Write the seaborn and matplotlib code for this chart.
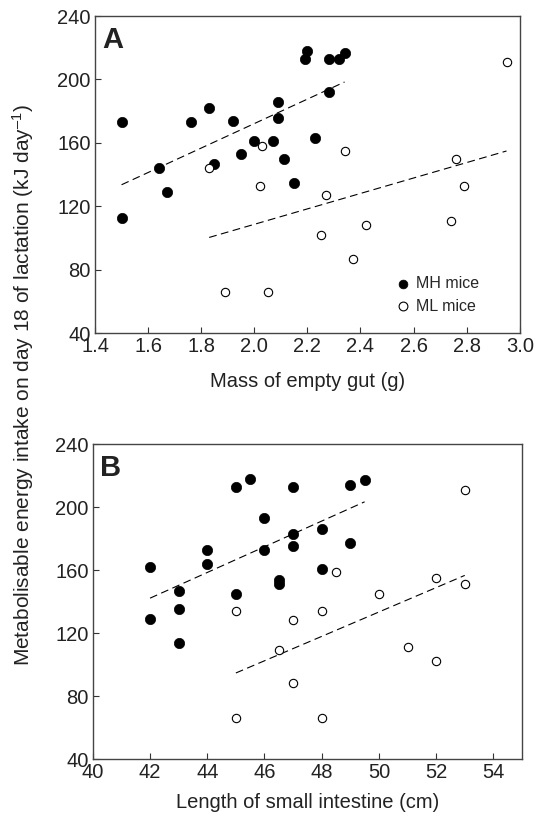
import matplotlib
matplotlib.use("Agg")
import matplotlib.pyplot as plt
import seaborn as sns
import pandas as pd
import numpy as np

sns.set_style("ticks")
plt.rcParams['font.family'] = ['Liberation Sans', 'DejaVu Sans']
plt.rcParams['mathtext.fontset'] = 'custom'
plt.rcParams['mathtext.rm'] = 'Liberation Sans'
plt.rcParams['mathtext.it'] = 'Liberation Sans:italic'
plt.rcParams['mathtext.bf'] = 'Liberation Sans:bold'

# Panel A: mass of empty gut (g) vs energy intake
gut_mh = [1.50, 1.50, 1.64, 1.67, 1.76, 1.83, 1.85, 1.92, 1.95, 2.00, 2.07, 2.09,
          2.09, 2.11, 2.15, 2.19, 2.20, 2.28, 2.32, 2.34, 2.28, 2.23]
gut_mh_y = [173, 113, 144, 129, 173, 182, 147, 174, 153, 161, 161, 186,
            176, 150, 135, 213, 218, 213, 213, 217, 192, 163]
gut_ml = [1.83, 2.03, 2.02, 1.89, 2.05, 2.34, 2.27, 2.25, 2.42, 2.37, 2.76, 2.79, 2.74, 2.95]
gut_ml_y = [144, 158, 133, 66, 66, 155, 127, 102, 108, 87, 150, 133, 111, 211]

# Panel B: length of small intestine (cm) vs energy intake
len_mh = [42, 42, 43, 43, 43, 44, 44, 45, 45, 45.5, 46, 46, 46.5, 46.5, 47, 47, 47,
          48, 48, 49, 49.5, 49]
len_mh_y = [162, 129, 147, 135, 114, 173, 164, 213, 145, 218, 193, 173, 154, 151,
            213, 183, 175, 186, 161, 214, 217, 177]
len_ml = [45, 47, 46.5, 47, 48.5, 48, 50, 52, 53, 53, 51, 52, 45, 48]
len_ml_y = [134, 128, 109, 88, 159, 134, 145, 155, 151, 211, 111, 102, 66, 66]

groups = ["MH mice", "ML mice"]

dfA = pd.DataFrame({
    "x": gut_mh + gut_ml,
    "y": gut_mh_y + gut_ml_y,
    "group": [groups[0]] * len(gut_mh) + [groups[1]] * len(gut_ml),
})
dfB = pd.DataFrame({
    "x": len_mh + len_ml,
    "y": len_mh_y + len_ml_y,
    "group": [groups[0]] * len(len_mh) + [groups[1]] * len(len_ml),
})

fig = plt.figure(figsize=(5.46, 8.21), dpi=100)
axA = fig.add_axes([0.174, 0.594, 0.778, 0.3865])
axB = fig.add_axes([0.170, 0.0755, 0.786, 0.3835])

def draw(ax, df, letter):
    mh = df[df.group == groups[0]]
    ml = df[df.group == groups[1]]
    for sub in (mh, ml):
        sns.regplot(data=sub, x="x", y="y", ax=ax, scatter=False, ci=None, truncate=True,
                    line_kws=dict(color="black", lw=0.8, dashes=(7, 4)))
    sns.scatterplot(data=mh, x="x", y="y", ax=ax, color="black", s=55,
                    edgecolor="black", linewidth=0.5, label="MH mice", zorder=3)
    sns.scatterplot(data=ml, x="x", y="y", ax=ax, facecolor="white", s=36,
                    edgecolor="black", linewidth=0.8, label="ML mice", zorder=3)
    ax.annotate(letter, xy=(0, 1), xycoords="axes fraction", xytext=(7, -10),
                textcoords="offset pixels", fontsize=21, fontweight="bold",
                va="top", ha="left", color="#222222")
    ax.set_ylim(40, 240)
    ax.set_yticks(np.arange(40, 241, 40))
    ax.set_xlabel("")
    ax.set_ylabel("")
    ax.tick_params(direction="in", length=4, width=0.8, labelsize=14.5, color="#333333",
                   labelcolor="#222222")
    ax.tick_params(axis="y", pad=3)
    ax.tick_params(axis="x", pad=3)
    for sp in ax.spines.values():
        sp.set_color("#444444")
        sp.set_linewidth(1.0)

draw(axA, dfA, "A")
axA.set_xlim(1.4, 3.0)
axA.set_xticks(np.arange(1.4, 3.01, 0.2))
axA.set_xticklabels([f"{v:.1f}" for v in np.arange(1.4, 3.01, 0.2)])
axA.set_xlabel("Mass of empty gut (g)", fontsize=14.5, color="#222222", labelpad=11)
leg = axA.legend(loc="lower left", frameon=False, fontsize=11.5, handletextpad=0.3,
                 borderaxespad=0, borderpad=0, labelspacing=0.45, handlelength=1.0,
                 bbox_to_anchor=(0.706, 0.062))
for h in leg.legend_handles:
    h.set_sizes([40])

draw(axB, dfB, "B")
axB.set_xlim(40, 55)
axB.set_xticks(np.arange(40, 55, 2))
axB.set_xlabel("Length of small intestine (cm)", fontsize=14.5, color="#222222", labelpad=8)
axB.get_legend().remove()

fig.text(0.042, 0.531, "Metabolisable energy intake on day 18 of lactation (kJ day$^{\u2013 1}$)",
         rotation=90, ha="center", va="center", fontsize=15, color="#222222")

fig.savefig("out.png", dpi=100)
